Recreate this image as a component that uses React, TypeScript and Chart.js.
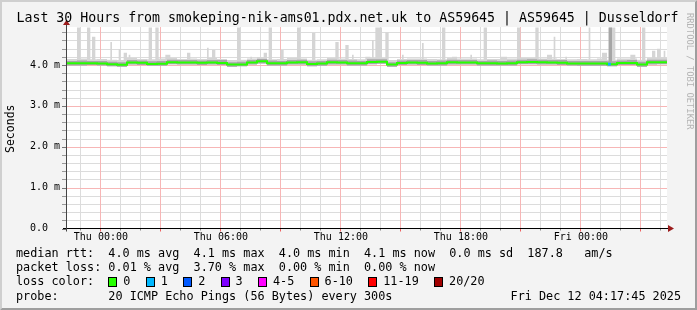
import React, { useEffect, useRef } from "react";
import { Chart, registerables } from "chart.js";

Chart.register(...registerables);

const W = 697;
const H = 310;
const FONT = '"DejaVu Sans Mono", monospace';

// ---------------- data ----------------
const startHour = -1.67; // first sample, hours after Thu 00:00
const spanHours = 30;
const stepHours = 1 / 12; // 300 s step
const cellSlots = 6; // base arrays are 30-minute cells

const xLabelHours = [0, 6, 12, 18, 24];
const xLabels = ["Thu 00:00", "Thu 06:00", "Thu 12:00", "Thu 18:00", "Fri 00:00"];
const yLabelValues = [0, 1, 2, 3, 4];
const yLabels = ["0.0", "1.0 m", "2.0 m", "3.0 m", "4.0 m"];
const yMaxMs = 4.93;
const xMinorStepH = 1;
const xMajorEvery = 3;
const yMinorStepMs = 0.2;

// median rtt (ms), one value per 30 minutes
const medianMs = [
  4.044, 4.044, 4.044, 4.04, 4.02, 4.005, 4.059, 4.055, 4.027, 4.03,
  4.069, 4.06, 4.059, 4.055, 4.059, 4.05, 4.01, 4.015, 4.062, 4.09,
  4.045, 4.044, 4.06, 4.065, 4.025, 4.035, 4.065, 4.06, 4.045, 4.044,
  4.075, 4.08, 4.01, 4.05, 4.06, 4.055, 4.04, 4.045, 4.065, 4.062,
  4.06, 4.044, 4.044, 4.04, 4.044, 4.07, 4.075, 4.065, 4.06, 4.058,
  4.04, 4.035, 4.037, 4.035, 4.02, 4.05, 4.052, 4.012, 4.065, 4.068,
];
// lower edge of the smoke (ms)
const smokeLowMs = [
  3.99, 3.99, 4.0, 3.99, 3.97, 3.96, 4.01, 4.0, 3.98, 3.98,
  4.02, 4.01, 4.01, 4.0, 4.01, 4.0, 3.96, 3.97, 4.01, 4.04,
  3.99, 3.99, 4.01, 4.01, 3.97, 3.98, 4.01, 4.01, 3.99, 3.99,
  4.02, 4.03, 3.96, 4.0, 4.01, 4.0, 3.99, 3.99, 4.01, 4.01,
  4.01, 3.99, 3.99, 3.99, 3.99, 4.02, 4.02, 4.01, 4.01, 4.0,
  3.99, 3.98, 3.98, 3.98, 3.97, 4.0, 4.0, 3.96, 4.01, 4.02,
];
// upper edge of the dense (darker) smoke (ms)
const smokeMidMs = [
  4.1, 4.11, 4.1, 4.1, 4.08, 4.07, 4.12, 4.11, 4.09, 4.1,
  4.13, 4.12, 4.12, 4.11, 4.12, 4.12, 4.07, 4.08, 4.12, 4.15,
  4.11, 4.1, 4.12, 4.13, 4.09, 4.1, 4.13, 4.12, 4.11, 4.1,
  4.14, 4.14, 4.07, 4.11, 4.12, 4.12, 4.1, 4.11, 4.13, 4.12,
  4.12, 4.1, 4.11, 4.1, 4.11, 4.13, 4.14, 4.13, 4.12, 4.12,
  4.1, 4.1, 4.1, 4.1, 4.09, 4.11, 4.12, 4.08, 4.13, 4.13,
];
// upper edge of the light smoke (ms)
const smokeTopMs = [
  4.15, 4.16, 4.14, 4.15, 4.13, 4.12, 4.17, 4.15, 4.14, 4.16,
  4.17, 4.15, 4.16, 4.15, 4.17, 4.15, 4.12, 4.13, 4.16, 4.19,
  4.14, 4.15, 4.17, 4.16, 4.13, 4.14, 4.17, 4.16, 4.15, 4.14,
  4.18, 4.17, 4.12, 4.15, 4.16, 4.16, 4.15, 4.14, 4.17, 4.16,
  4.16, 4.14, 4.15, 4.15, 4.16, 4.18, 4.18, 4.16, 4.16, 4.15,
  4.14, 4.15, 4.14, 4.16, 4.13, 4.16, 4.16, 4.13, 4.18, 4.19,
];
// outlier pings (light grey spikes): start hour, number of 5-min steps, top (ms)
const spikeStartH = [
  -1.18, -0.69, -0.38, 0.52, 0.92, 2.42, 2.77, 5.32, 5.62, 6.82,
  8.42, 8.97, 9.82, 10.57, 11.72, 12.27, 13.57, 13.77, 14.22, 16.07,
  17.07, 19.17, 20.87, 21.77, 22.67, 24.42, 25.42, 27.12,
  1.17, 1.42, 3.27, 4.37, 7.52, 8.17, 12.62, 13.27, 15.12, 17.62,
  18.47, 19.97, 22.37, 23.27, 25.07, 26.47, 27.57, 27.87, 28.17,
];
const spikeSteps = [
  2, 2, 2, 1, 1, 2, 2, 1, 2, 2,
  2, 2, 2, 2, 2, 2, 1, 4, 2, 1,
  2, 2, 2, 2, 1, 1, 4, 2,
  2, 1, 3, 2, 1, 2, 1, 3, 1, 3,
  1, 4, 3, 1, 3, 3, 2, 2, 1,
];
const spikeTopMs = [
  4.92, 4.92, 4.69, 4.56, 4.39, 4.92, 4.92, 4.42, 4.37, 4.92,
  4.92, 4.37, 4.92, 4.79, 4.56, 4.49, 4.61, 4.92, 4.8, 4.54,
  4.92, 4.92, 4.92, 4.92, 4.69, 4.92, 4.92, 4.92,
  4.3, 4.25, 4.25, 4.3, 4.2, 4.3, 4.25, 4.2, 4.25, 4.2,
  4.25, 4.2, 4.25, 4.2, 4.3, 4.25, 4.35, 4.4, 4.35,
];
// many pings high at once (darker spike)
const denseStartH = [25.42];
const denseSteps = [2];
const denseTopMs = [4.92];
// steps with packet loss
const lossHours = [25.45];
const lossCount = [1];

const titleText =
  "Last 30 Hours from smokeping-nik-ams01.pdx.net.uk to AS59645 | AS59645 | Dusseldorf";
const medianStats = ["4.0 ms avg", "4.1 ms max", "4.0 ms min", "4.1 ms now", "0.0 ms sd", "187.8   am/s"];
const lossStats = ["0.01 % avg", "3.70 % max", "0.00 % min", "0.00 % now"];
const lossLegendLabels = ["0", "1", "2", "3", "4-5", "6-10", "11-19", "20/20"];
const lossLegendColors = ["#26ff00", "#00b8ff", "#0059ff", "#7e00ff", "#ff00ff", "#ff5500", "#ff0000", "#a10000"];
const probeText = "20 ICMP Echo Pings (56 Bytes) every 300s";
const dateText = "Fri Dec 12 04:17:45 2025";
const watermark = "RRDTOOL / TOBI OETIKER";

// ---------------- helpers ----------------
const SLOT_COUNT = Math.round(spanHours / stepHours);

function slotValues(base: number[], starts: number[], steps: number[], tops: number[]) {
  const vals: number[] = [];
  for (let k = 0; k < SLOT_COUNT; k++) vals.push(base[Math.min(base.length - 1, Math.floor(k / cellSlots))]);
  starts.forEach((s, i) => {
    const k0 = Math.round((s - startHour) / stepHours);
    for (let k = k0; k < k0 + steps[i]; k++) {
      if (k >= 0 && k < SLOT_COUNT) vals[k] = Math.max(vals[k], tops[i]);
    }
  });
  return vals;
}

function toPoints(vals: number[]) {
  const pts = vals.map((v, k) => ({ x: startHour + k * stepHours, y: v }));
  pts.push({ x: startHour + spanHours, y: vals[vals.length - 1] });
  return pts;
}

const MINOR_GRID = "#dcdcdc";
const MAJOR_GRID = "#f7b6b6";

function drawGrid(chart: any) {
  const ctx = chart.ctx;
  const a = chart.chartArea;
  const xs = chart.scales.x;
  const ys = chart.scales.y;
  const y0 = Math.round(a.top);
  const y1 = Math.round(a.bottom);
  const x0 = Math.round(a.left);
  const x1 = Math.round(a.right);
  ctx.save();
  ctx.lineWidth = 1;
  ctx.setLineDash([]);
  [false, true].forEach((major) => {
    ctx.strokeStyle = major ? MAJOR_GRID : MINOR_GRID;
    ctx.beginPath();
    for (let h = Math.ceil(xs.min); h <= xs.max; h += xMinorStepH) {
      const isMajor = ((Math.round(h) % xMajorEvery) + xMajorEvery) % xMajorEvery === 0;
      if (isMajor !== major) continue;
      const px = Math.round(xs.getPixelForValue(h)) + 0.5;
      ctx.moveTo(px, y0);
      ctx.lineTo(px, y1);
    }
    for (let i = 1; i * yMinorStepMs < ys.max; i++) {
      if ((i % 5 === 0) !== major) continue;
      const py = Math.round(ys.getPixelForValue(i * yMinorStepMs)) + 0.5;
      ctx.moveTo(x0, py);
      ctx.lineTo(x1, py);
    }
    ctx.stroke();
  });
  ctx.restore();
}

const chromePlugin = {
  id: "rrdChrome",
  beforeDraw(chart: any) {
    const { ctx, chartArea: a } = chart;
    ctx.save();
    ctx.fillStyle = "#f3f3f3";
    ctx.fillRect(0, 0, W, H);
    // bevel
    ctx.fillStyle = "#cfcfcf";
    ctx.beginPath();
    ctx.moveTo(0, 0); ctx.lineTo(W, 0); ctx.lineTo(W - 2, 2); ctx.lineTo(2, 2);
    ctx.lineTo(2, H - 2); ctx.lineTo(0, H); ctx.closePath(); ctx.fill();
    ctx.fillStyle = "#9e9e9e";
    ctx.beginPath();
    ctx.moveTo(W, 0); ctx.lineTo(W, H); ctx.lineTo(0, H); ctx.lineTo(2, H - 2);
    ctx.lineTo(W - 2, H - 2); ctx.lineTo(W - 2, 2); ctx.closePath(); ctx.fill();
    ctx.fillStyle = "#ffffff";
    ctx.fillRect(a.left, a.top, a.right - a.left, a.bottom - a.top);
    ctx.restore();
  },
  beforeDatasetsDraw(chart: any) {
    drawGrid(chart);
  },
  afterDraw(chart: any) {
    const { ctx, chartArea: a } = chart;
    const xs = chart.scales.x;
    const ys = chart.scales.y;
    ctx.save();
    ctx.lineWidth = 1;
    // x ticks below axis
    for (let h = Math.ceil(xs.min); h <= xs.max; h += xMinorStepH) {
      const px = Math.round(xs.getPixelForValue(h)) + 0.5;
      const major = ((h % xMajorEvery) + xMajorEvery) % xMajorEvery === 0;
      ctx.strokeStyle = major ? "rgba(235,0,0,0.6)" : "#8a8a8a";
      ctx.beginPath();
      ctx.moveTo(px, a.bottom);
      ctx.lineTo(px, a.bottom + (major ? 3 : 2));
      ctx.stroke();
    }
    // y ticks left of axis
    for (let i = 0; i * yMinorStepMs <= ys.max + 1e-9; i++) {
      const py = Math.round(ys.getPixelForValue(i * yMinorStepMs)) + 0.5;
      ctx.strokeStyle = i % 5 === 0 ? "#777" : "#999";
      ctx.beginPath();
      ctx.moveTo(a.left - 5, py);
      ctx.lineTo(a.left, py);
      ctx.stroke();
    }
    // axes
    const axY = Math.round(a.bottom) - 0.5;
    const axX = Math.round(a.left) - 0.5;
    ctx.strokeStyle = "#000";
    ctx.beginPath();
    ctx.moveTo(a.left - 4, axY);
    ctx.lineTo(a.right + 4, axY);
    ctx.stroke();
    ctx.strokeStyle = "#444";
    ctx.beginPath();
    ctx.moveTo(axX, a.bottom + 3);
    ctx.lineTo(axX, a.top - 4);
    ctx.stroke();
    // arrows
    ctx.fillStyle = "#9b1c1c";
    ctx.beginPath();
    ctx.moveTo(a.right + 1, axY - 3.5);
    ctx.lineTo(a.right + 7, axY);
    ctx.lineTo(a.right + 1, axY + 3.5);
    ctx.closePath();
    ctx.fill();
    ctx.beginPath();
    ctx.moveTo(axX - 3.5, a.top - 2);
    ctx.lineTo(axX, a.top - 7);
    ctx.lineTo(axX + 3.5, a.top - 2);
    ctx.closePath();
    ctx.fill();

    // tick labels
    ctx.fillStyle = "#000";
    ctx.font = `10px ${FONT}`;
    ctx.textBaseline = "middle";
    ctx.textAlign = "left";
    yLabelValues.forEach((v, i) => ctx.fillText(yLabels[i], 30, ys.getPixelForValue(v)));
    ctx.textAlign = "center";
    xLabelHours.forEach((h, i) => ctx.fillText(xLabels[i], xs.getPixelForValue(h) + 0.5, a.bottom + 9));

    // title
    ctx.font = `13.25px ${FONT}`;
    ctx.fillText(titleText, 347.5, 19);

    // y title
    ctx.save();
    ctx.font = `11.5px ${FONT}`;
    ctx.translate(11, (a.top + a.bottom) / 2 + 1);
    ctx.rotate(-Math.PI / 2);
    ctx.fillText("Seconds", 0, 0);
    ctx.restore();

    // watermark
    ctx.save();
    ctx.font = `8.8px ${FONT}`;
    ctx.fillStyle = "#b4b4b4";
    ctx.textAlign = "left";
    ctx.translate(689, 13);
    ctx.rotate(Math.PI / 2);
    ctx.fillText(watermark, 0, 0);
    ctx.restore();

    // legend
    ctx.font = `11.8px ${FONT}`;
    ctx.textAlign = "left";
    ctx.fillStyle = "#000";
    const lx = 16;
    const rows = [254, 268.3, 282.3, 296.7];
    ctx.fillText("median rtt:  " + medianStats.join("  "), lx, rows[0]);
    ctx.fillText("packet loss: " + lossStats.join("  "), lx, rows[1]);
    ctx.fillText("loss color:", lx, rows[2]);
    const cw = ctx.measureText("0").width;
    let bx = lx + 13 * cw;
    lossLegendLabels.forEach((lab, i) => {
      const bxr = Math.round(bx);
      ctx.fillStyle = lossLegendColors[i];
      ctx.fillRect(bxr, Math.round(rows[2]) - 5, 9, 10);
      ctx.strokeStyle = "#000";
      ctx.strokeRect(bxr + 0.5, Math.round(rows[2]) - 4.5, 8, 9);
      ctx.fillStyle = "#000";
      ctx.fillText(lab, bx + 15, rows[2]);
      bx = bx + 15 + lab.length * cw + 15.3;
    });
    ctx.fillText("probe:       " + probeText, lx, rows[3]);
    ctx.textAlign = "right";
    ctx.fillText(dateText, 681, rows[3]);
    ctx.restore();
  },
};

export default function App() {
  const ref = useRef<HTMLCanvasElement | null>(null);

  useEffect(() => {
    document.body.style.margin = "0";
    const canvas = ref.current;
    if (!canvas) return;

    const lowSlots = slotValues(smokeLowMs, [], [], []);
    const topSlots = slotValues(smokeTopMs, spikeStartH, spikeSteps, spikeTopMs);
    const midSlots = slotValues(smokeMidMs, denseStartH, denseSteps, denseTopMs);
    const medSlots = slotValues(medianMs, [], [], []);
    const lossPts = lossHours.map((h, i) => ({
      x: h,
      y: medianMs[Math.floor((h - startHour) / stepHours / cellSlots)],
      n: lossCount[i],
    }));

    const chart = new Chart(canvas, {
      type: "line",
      data: {
        datasets: [
          {
            data: toPoints(lowSlots),
            borderColor: "transparent",
            borderWidth: 0,
            pointRadius: 0,
            stepped: true,
            fill: false,
            order: 10,
          },
          {
            data: toPoints(topSlots),
            borderColor: "transparent",
            borderWidth: 0,
            backgroundColor: "#d5d5d5",
            pointRadius: 0,
            stepped: true,
            fill: 0,
            order: 9,
          },
          {
            data: toPoints(midSlots),
            borderColor: "transparent",
            borderWidth: 0,
            backgroundColor: "#a6a6a6",
            pointRadius: 0,
            stepped: true,
            fill: 0,
            order: 8,
          },
          {
            data: toPoints(medSlots),
            borderColor: "#26ff00",
            borderWidth: 2,
            pointRadius: 0,
            stepped: true,
            fill: false,
            order: 2,
          },
          {
            data: lossPts,
            showLine: false,
            pointStyle: "rect",
            pointRadius: 2,
            pointBorderWidth: 0,
            backgroundColor: lossLegendColors[1],
            borderColor: lossLegendColors[1],
            order: 1,
          },
        ],
      } as any,
      options: {
        responsive: false,
        animation: false,
        events: [],
        layout: { padding: { left: 67, right: 30, top: 27, bottom: 81.5 } },
        plugins: { legend: { display: false }, tooltip: { enabled: false } },
        scales: {
          x: {
            type: "linear",
            bounds: "data",
            min: startHour,
            max: startHour + spanHours,
            ticks: { display: false, stepSize: xMinorStepH, includeBounds: false, maxTicksLimit: 200 },
            grid: { display: false, drawTicks: false },
            border: { display: false },
          },
          y: {
            type: "linear",
            bounds: "data",
            min: 0,
            max: yMaxMs,
            ticks: { display: false, stepSize: yMinorStepMs, includeBounds: false, maxTicksLimit: 200 },
            grid: { display: false, drawTicks: false },
            border: { display: false },
          },
        },
      } as any,
      plugins: [chromePlugin],
    });

    return () => chart.destroy();
  }, []);

  return <canvas ref={ref} width={W} height={H} style={{ display: "block", width: W, height: H }} />;
}
